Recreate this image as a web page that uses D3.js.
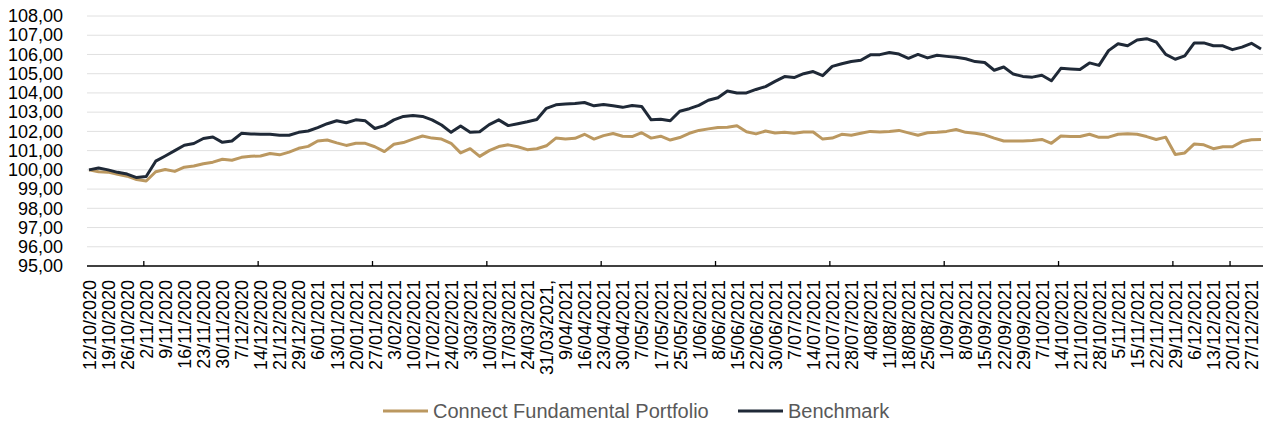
<!DOCTYPE html>
<html>
<head>
<meta charset="utf-8">
<script src="https://cdn.jsdelivr.net/npm/d3@7"></script>
<style>
  body { margin: 0; background: #fff; }
  svg { display: block; font-family: "Liberation Sans", Arial, sans-serif; }
</style>
</head>
<body>
<div id="chart"></div>
<script>
// Weekly date labels shown under the axis (one every 2 data points)
const dateLabels = [
  "12/10/2020", "19/10/2020", "26/10/2020", "2/11/2020", "9/11/2020", "16/11/2020",
  "23/11/2020", "30/11/2020", "7/12/2020", "14/12/2020", "21/12/2020", "29/12/2020",
  "6/01/2021", "13/01/2021", "20/01/2021", "27/01/2021", "3/02/2021", "10/02/2021",
  "17/02/2021", "24/02/2021", "3/03/2021", "10/03/2021", "17/03/2021", "24/03/2021",
  "31/03/2021,", "9/04/2021", "16/04/2021", "23/04/2021", "30/04/2021", "7/05/2021",
  "17/05/2021", "25/05/2021", "1/06/2021", "8/06/2021", "15/06/2021", "22/06/2021",
  "30/06/2021", "7/07/2021", "14/07/2021", "21/07/2021", "28/07/2021", "4/08/2021",
  "11/08/2021", "18/08/2021", "25/08/2021", "1/09/2021", "8/09/2021", "15/09/2021",
  "22/09/2021", "29/09/2021", "7/10/2021", "14/10/2021", "21/10/2021", "28/10/2021",
  "5/11/2021", "15/11/2021", "22/11/2021", "29/11/2021", "6/12/2021", "13/12/2021",
  "20/12/2021", "27/12/2021"
];

// Connect Fundamental Portfolio
const portfolio = [
  100.00, 99.90, 99.88, 99.77, 99.67, 99.50, 99.42, 99.90, 100.02, 99.92,
  100.14, 100.20, 100.32, 100.40, 100.55, 100.50, 100.65, 100.71, 100.72, 100.85,
  100.78, 100.92, 101.12, 101.22, 101.50, 101.55, 101.40, 101.27, 101.38, 101.38,
  101.20, 100.95, 101.33, 101.42, 101.60, 101.76, 101.65, 101.60, 101.38, 100.88,
  101.10, 100.70, 101.00, 101.21, 101.30, 101.20, 101.05, 101.10, 101.25, 101.65,
  101.60, 101.64, 101.85, 101.60, 101.78, 101.89, 101.75, 101.73, 101.93, 101.65,
  101.75, 101.55, 101.68, 101.90, 102.05, 102.13, 102.20, 102.22, 102.29, 101.98,
  101.87, 102.02, 101.92, 101.96, 101.90, 101.97, 101.97, 101.60, 101.65, 101.85,
  101.80, 101.90, 102.00, 101.97, 102.00, 102.05, 101.92, 101.80, 101.93, 101.95,
  102.00, 102.10, 101.95, 101.90, 101.82, 101.65, 101.50, 101.50, 101.50, 101.53,
  101.58, 101.38, 101.76, 101.73, 101.73, 101.85, 101.69, 101.70, 101.85, 101.88,
  101.85, 101.73, 101.58, 101.70, 100.80, 100.88, 101.35, 101.30, 101.10, 101.20,
  101.20, 101.47, 101.56, 101.58
];

// Benchmark
const benchmark = [
  100.00, 100.10, 100.00, 99.87, 99.78, 99.60, 99.65, 100.45, 100.72, 101.00,
  101.28, 101.37, 101.63, 101.71, 101.43, 101.50, 101.90, 101.87, 101.85, 101.85,
  101.80, 101.80, 101.95, 102.02, 102.20, 102.40, 102.55, 102.45, 102.60, 102.55,
  102.15, 102.30, 102.60, 102.78, 102.82, 102.78, 102.60, 102.33, 101.95, 102.28,
  101.95, 101.98, 102.35, 102.60, 102.30, 102.40, 102.50, 102.62, 103.20, 103.38,
  103.42, 103.45, 103.50, 103.33, 103.40, 103.33, 103.25, 103.35, 103.30, 102.60,
  102.63, 102.55, 103.05, 103.18, 103.35, 103.62, 103.75, 104.10, 104.00, 104.00,
  104.18, 104.33, 104.60, 104.85, 104.80, 105.00, 105.11, 104.90, 105.38, 105.52,
  105.63, 105.70, 105.98, 105.99, 106.10, 106.02, 105.80, 106.00, 105.82, 105.96,
  105.90, 105.85, 105.78, 105.63, 105.58, 105.18, 105.35, 104.98, 104.86, 104.82,
  104.92, 104.63, 105.28, 105.25, 105.22, 105.56, 105.43, 106.20, 106.56, 106.45,
  106.75, 106.82, 106.65, 106.00, 105.75, 105.93, 106.60, 106.60, 106.45, 106.45,
  106.25, 106.38, 106.58, 106.28
];

const yTicks = [95, 96, 97, 98, 99, 100, 101, 102, 103, 104, 105, 106, 107, 108];
// tick marks on the category axis (in data-point units)
const axisTickIdx = [5.7, 17.7, 29.7, 41.7, 53.7, 65.7, 77.7, 89.7, 101.7, 113.7, 119.7];

const series = [
  { name: "Connect Fundamental Portfolio", values: portfolio, color: "#bb9860" },
  { name: "Benchmark", values: benchmark, color: "#1f2937" }
];

const width = 1264, height = 425;
const plotLeft = 87, plotRight = 1263, plotTop = 16, plotBottom = 266;

const svg = d3.select("#chart").append("svg")
  .attr("width", width)
  .attr("height", height);

const x = d3.scaleLinear().domain([0, portfolio.length - 1]).range([89, 1261]);
const y = d3.scaleLinear().domain([95, 108]).range([plotBottom, plotTop]);

const locale = d3.formatLocale({ decimal: ",", thousands: ".", grouping: [3], currency: ["", "€"] });
const fmt = locale.format(".2f");

// gridlines
svg.append("g")
  .selectAll("line")
  .data(yTicks.filter(d => d !== 95))
  .join("line")
  .attr("x1", plotLeft).attr("x2", plotRight)
  .attr("y1", d => y(d)).attr("y2", d => y(d))
  .attr("stroke", "#e0e0e0")
  .attr("stroke-width", 1);

// y axis labels
const yAxis = svg.append("g")
  .attr("transform", `translate(${plotLeft},0)`)
  .call(d3.axisLeft(y).tickValues(yTicks).tickFormat(fmt).tickSize(0).tickPadding(24));
yAxis.select(".domain").remove();
yAxis.selectAll("text")
  .attr("font-size", 18)
  .attr("font-family", "'Liberation Sans', Arial, sans-serif")
  .attr("fill", "#000");

// lines
const line = d3.line()
  .x((d, i) => x(i))
  .y(d => y(d));

svg.append("g")
  .selectAll("path")
  .data(series)
  .join("path")
  .attr("fill", "none")
  .attr("stroke", d => d.color)
  .attr("stroke-width", 3)
  .attr("stroke-linejoin", "round")
  .attr("d", d => line(d.values));

// x axis: tick marks pointing up into the plot
const xTicks = svg.append("g")
  .attr("transform", `translate(0,${plotBottom})`)
  .call(d3.axisBottom(x).tickValues(axisTickIdx).tickSizeInner(-5).tickSizeOuter(0).tickFormat(""));
xTicks.select(".domain").remove();
xTicks.selectAll("line").attr("stroke", "#000").attr("stroke-width", 1.3);

svg.append("line")
  .attr("x1", plotLeft).attr("x2", plotRight)
  .attr("y1", plotBottom).attr("y2", plotBottom)
  .attr("stroke", "#000")
  .attr("stroke-width", 1.5);

// x axis date labels, rotated
const xLabels = svg.append("g")
  .attr("transform", `translate(0,${plotBottom})`)
  .call(d3.axisBottom(x)
    .tickValues(dateLabels.map((d, i) => i * 2))
    .tickFormat(i => dateLabels[i / 2])
    .tickSize(0));
xLabels.select(".domain").remove();
xLabels.selectAll("text")
  .attr("transform", "rotate(-90)")
  .attr("text-anchor", "end")
  .attr("x", -14)
  .attr("y", 0)
  .attr("dy", "0.35em")
  .attr("font-size", 18)
  .attr("font-family", "'Liberation Sans', Arial, sans-serif")
  .attr("fill", "#000");

// legend
const legendX = [383, 738];
const legend = svg.append("g")
  .selectAll("g")
  .data(series)
  .join("g")
  .attr("transform", (d, i) => `translate(${legendX[i]},411)`);

legend.append("line")
  .attr("x1", 0).attr("x2", 45)
  .attr("stroke", d => d.color)
  .attr("stroke-width", 3);

legend.append("text")
  .attr("x", 50)
  .attr("dy", "0.35em")
  .attr("font-size", 20)
  .attr("fill", "#595959")
  .text(d => d.name);
</script>
</body>
</html>
